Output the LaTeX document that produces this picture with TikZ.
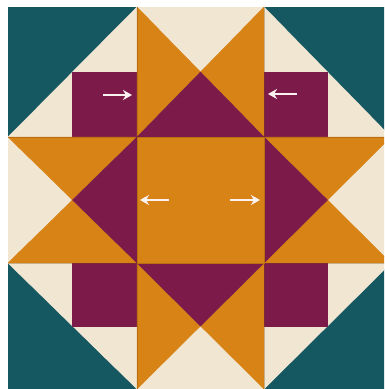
\documentclass[tikz,border=0pt]{standalone}
\usetikzlibrary{arrows.meta}
\definecolor{teal1}{RGB}{22,88,98}
\definecolor{cream}{RGB}{241,230,210}
\definecolor{gold}{RGB}{216,131,22}
\definecolor{plum}{RGB}{124,26,74}
\definecolor{arrowwhite}{RGB}{250,242,240}
\begin{document}
\begin{tikzpicture}[x=1pt,y=-1pt,
  piece/.style={line width=0.4pt,line join=round},
  tealp/.style={piece,fill=teal1,draw=teal1},
  creamp/.style={piece,fill=cream,draw=cream},
  goldp/.style={piece,fill=gold,draw=gold},
  plump/.style={piece,fill=plum,draw=plum},
  seam/.style={draw=black,draw opacity=0.15,line width=0.5pt},
  wharrow/.style={draw=arrowwhite,line width=2pt,-{Stealth[length=9pt,width=10pt]}}]
\useasboundingbox (0,0) rectangle (384,389);
\fill[white] (0,0) rectangle (384,389);
\clip (8,7) rectangle (384,389);
% grid coordinates
\coordinate (tm) at (200.5,72);
\coordinate (lm) at (72.5,200);
\coordinate (rm) at (327.5,200);
\coordinate (bm) at (200.5,326);
% ---- corner cells ----
% top-left
\filldraw[tealp] (8,7) -- (137,7) -- (8,137) -- cycle;
\filldraw[creamp] (137,7) -- (137,137) -- (8,137) -- cycle;
\filldraw[plump] (72.5,72) rectangle (137,137);
% top-right
\filldraw[tealp] (264,7) -- (391,7) -- (391,137) -- cycle;
\filldraw[creamp] (264,7) -- (391,137) -- (264,137) -- cycle;
\filldraw[plump] (264,72) rectangle (327.5,137);
% bottom-left
\filldraw[tealp] (8,263) -- (137,389) -- (8,389) -- cycle;
\filldraw[creamp] (8,263) -- (137,263) -- (137,389) -- cycle;
\filldraw[plump] (72.5,263) rectangle (137,326);
% bottom-right
\filldraw[tealp] (391,263) -- (391,389) -- (264,389) -- cycle;
\filldraw[creamp] (264,263) -- (391,263) -- (264,389) -- cycle;
\filldraw[plump] (264,263) rectangle (327.5,326);
% ---- top-middle ----
\filldraw[creamp] (137,7) -- (264,7) -- (tm) -- cycle;
\filldraw[goldp] (137,7) -- (tm) -- (137,137) -- cycle;
\filldraw[goldp] (264,7) -- (tm) -- (264,137) -- cycle;
\filldraw[plump] (137,137) -- (tm) -- (264,137) -- cycle;
% ---- bottom-middle ----
\filldraw[creamp] (137,389) -- (264,389) -- (bm) -- cycle;
\filldraw[goldp] (137,263) -- (bm) -- (137,389) -- cycle;
\filldraw[goldp] (264,263) -- (bm) -- (264,389) -- cycle;
\filldraw[plump] (137,263) -- (bm) -- (264,263) -- cycle;
% ---- left-middle ----
\filldraw[creamp] (8,137) -- (lm) -- (8,263) -- cycle;
\filldraw[goldp] (8,137) -- (137,137) -- (lm) -- cycle;
\filldraw[goldp] (8,263) -- (137,263) -- (lm) -- cycle;
\filldraw[plump] (137,137) -- (lm) -- (137,263) -- cycle;
% ---- right-middle ----
\filldraw[creamp] (391,137) -- (rm) -- (391,263) -- cycle;
\filldraw[goldp] (264,137) -- (391,137) -- (rm) -- cycle;
\filldraw[goldp] (264,263) -- (391,263) -- (rm) -- cycle;
\filldraw[plump] (264,137) -- (rm) -- (264,263) -- cycle;
% ---- center ----
\filldraw[goldp] (137,137) rectangle (264,263);
% seams
\draw[seam] (137,7) -- (137,389) (264,7) -- (264,389) (8,137) -- (391,137) (8,263) -- (391,263);
% ---- arrows ----
\coordinate (a1s) at (103,95); \coordinate (a1e) at (132,95);
\coordinate (a2s) at (297,94); \coordinate (a2e) at (268,94);
\coordinate (a3s) at (169,200); \coordinate (a3e) at (140,200);
\coordinate (a4s) at (230,200); \coordinate (a4e) at (260,200);
\draw[wharrow] (a1s) -- (a1e);
\draw[wharrow] (a2s) -- (a2e);
\draw[wharrow] (a3s) -- (a3e);
\draw[wharrow] (a4s) -- (a4e);
\end{tikzpicture}
\end{document}
